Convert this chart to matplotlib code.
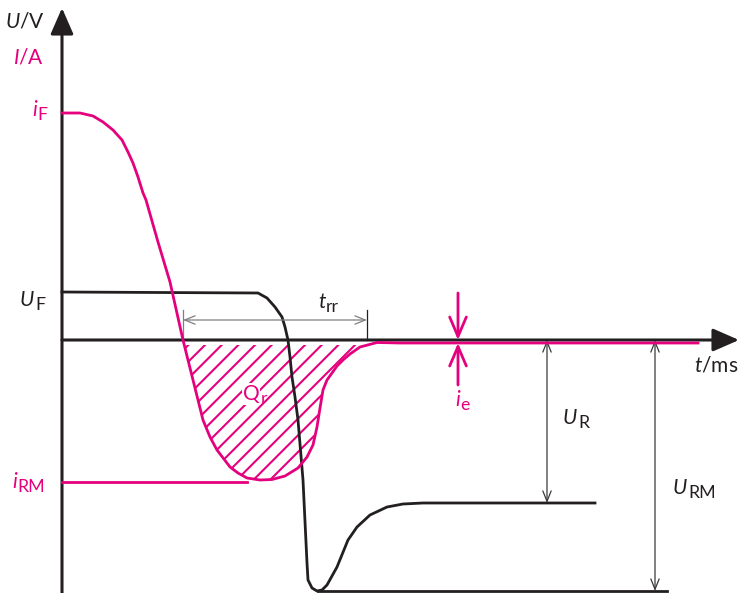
import matplotlib
matplotlib.use("Agg")
import matplotlib.pyplot as plt
import numpy as np

plt.rcParams["font.family"] = ["Lato", "DejaVu Sans"]
plt.rcParams["mathtext.fontset"] = "custom"
plt.rcParams["mathtext.rm"] = "Lato"
plt.rcParams["mathtext.it"] = "Lato:italic"
plt.rcParams["hatch.linewidth"] = 1.5

MAGENTA = "#E5007D"
BLACK = "#231F20"
GREY = "#7F7F7F"

# current curve i(t)
t_i = np.array([0, 1.8, 3.1, 4.1, 5.1, 6.0, 6.6, 7.1, 7.6, 8.1, 8.4, 9.6, 10.8, 12.1, 13.1,
                14.1, 14.8, 15.5, 16.8, 17.6, 18.5, 19.8, 21.0, 22.3, 23.6, 24.5, 25.1, 25.5,
                25.8, 26.1, 26.5, 27.0, 27.5, 28.1, 28.8, 29.8, 31.5, 33.8, 63.6])
i_val = np.array([22.7, 22.7, 22.4, 21.8, 21.0, 20.0, 18.8, 17.7, 16.3, 14.7, 14.0, 9.8, 5.8,
                  0, -4.0, -8.0, -9.7, -11.0, -12.7, -13.3, -13.8, -14.0, -13.95, -13.6, -12.8,
                  -11.7, -10.5, -8.7, -6.8, -5.0, -4.0, -3.3, -2.6, -2.0, -1.4, -0.7, -0.25,
                  -0.3, -0.3])

# voltage curve u(t)
t_u = np.array([0, 19.6, 20.5, 21.3, 22.0, 22.3, 22.6, 22.8, 23.0, 23.3, 23.6, 23.85, 24.1,
                24.5, 24.6, 25.0, 25.5, 26.0, 26.5, 27.5, 28.6, 29.5, 30.8, 32.5, 34.1, 36.1,
                53.3])
u_val = np.array([4.8, 4.7, 4.2, 3.3, 2.3, 1.3, 0, -1.7, -3.7, -5.7, -8.0, -11.0, -14.0,
                  -22.3, -24.0, -24.8, -25.1, -25.0, -24.5, -22.7, -20.0, -18.7, -17.5, -16.7,
                  -16.4, -16.3, -16.3])

# levels and times
i_RM = -14.2
i_e = -0.3
U_R = -16.3
U_RM = -25.1
t_rr = [12.1, 30.5]
t_irm_end = 18.5
t_urm = [25.6, 60.5]
t_arrow_ur = 48.5
t_arrow_urm = 59.3
t_ie = 39.6
t_axis_end = 67.7
y_axis_top = 33.2
hatch_top = -0.5

fig = plt.figure(figsize=(7.39, 5.93), dpi=100)
ax = fig.add_axes([0, 0, 1, 1])
ax.set_xlim(-6.2, 67.7)
ax.set_ylim(-25.3, 34.0)
ax.axis("off")

# axes with arrow heads
head = dict(arrowstyle="-|>,head_length=0.8,head_width=0.35", lw=2.2, color=BLACK,
            shrinkA=0, shrinkB=0, mutation_scale=20)
ax.annotate("", xy=(t_axis_end, 0), xytext=(0, 0), arrowprops=head)
ax.annotate("", xy=(0, y_axis_top), xytext=(0, -25.3), arrowprops=head)

# hatched reverse recovery charge
sel = (t_i >= t_rr[0]) & (t_i <= 30.0)
ax.fill_between(t_i[sel], i_val[sel], hatch_top, where=i_val[sel] < hatch_top,
                interpolate=True, facecolor="none", edgecolor=MAGENTA,
                hatch="//", linewidth=0, zorder=1)

# voltage
ax.plot(t_u, u_val, color=BLACK, lw=2.0, solid_joinstyle="round", zorder=3)
ax.plot(t_urm, [U_RM, U_RM], color=BLACK, lw=2.0, zorder=3)

# current
ax.plot(t_i, i_val, color=MAGENTA, lw=2.0, solid_joinstyle="round", zorder=4)
ax.plot([0, t_irm_end], [i_RM, i_RM], color=MAGENTA, lw=2.0, zorder=4)

# t_rr dimension
ax.annotate("", xy=(t_rr[1], 2.0), xytext=(t_rr[0], 2.0),
            arrowprops=dict(arrowstyle="<->,head_length=0.5,head_width=0.2", lw=0.9,
                            color=GREY, shrinkA=0, shrinkB=0, mutation_scale=15))
ax.plot([t_rr[0], t_rr[0]], [3.0, 0], color=GREY, lw=0.9, zorder=2)
ax.plot([t_rr[1], t_rr[1]], [3.0, 0], color=BLACK, lw=0.9, zorder=2)

# U_R and U_RM dimensions
for tt, lev in [(t_arrow_ur, U_R), (t_arrow_urm, U_RM)]:
    ax.annotate("", xy=(tt, lev), xytext=(tt, 0),
                arrowprops=dict(arrowstyle="<->,head_length=0.5,head_width=0.2", lw=0.9,
                                color="#3a3a3a", shrinkA=0, shrinkB=0, mutation_scale=15))

# i_e arrows
ie_head = dict(arrowstyle="->,head_length=0.7,head_width=0.3", lw=2.0, color=MAGENTA,
               shrinkA=0, shrinkB=0, mutation_scale=20)
ax.annotate("", xy=(t_ie, 0), xytext=(t_ie, 4.7), arrowprops=ie_head)
ax.annotate("", xy=(t_ie, i_e), xytext=(t_ie, -4.5), arrowprops=ie_head)

fs = 15


def label(x, y, main, sub, color, italic=True, box=False):
    txt = ax.text(x, y, main, fontsize=fs, color=color, ha="left", va="center",
                  fontstyle="italic" if italic else "normal")
    if box:
        txt.set_bbox(dict(facecolor="white", edgecolor="none", pad=0.5))
    ax.annotate(sub, xy=(1, 0), xycoords=txt, xytext=(0.5, -2.5),
                textcoords="offset points", fontsize=fs * 0.85, color=color,
                ha="left", va="bottom")


ax.text(-5.7, 31.9, r"$U$/V", fontsize=fs, color=BLACK, ha="left", va="center")
ax.text(-4.9, 28.3, r"$I$/A", fontsize=fs, color=MAGENTA, ha="left", va="center")
ax.text(67.6, -2.5, r"$t$/ms", fontsize=fs, color=BLACK, ha="right", va="center")
label(-3.0, 23.0, "i", "F", MAGENTA)
label(-4.2, 4.0, "U", "F", BLACK)
label(-5.0, -14.2, "i", "RM", MAGENTA)
label(50.1, -7.8, "U", "R", BLACK)
label(61.1, -14.8, "U", "RM", BLACK)
label(18.1, -5.4, "Q", "r", MAGENTA, italic=False, box=True)
label(25.6, 3.8, "t", "rr", BLACK)
label(39.3, -6.0, "i", "e", MAGENTA)

fig.savefig("out.png", dpi=100)
